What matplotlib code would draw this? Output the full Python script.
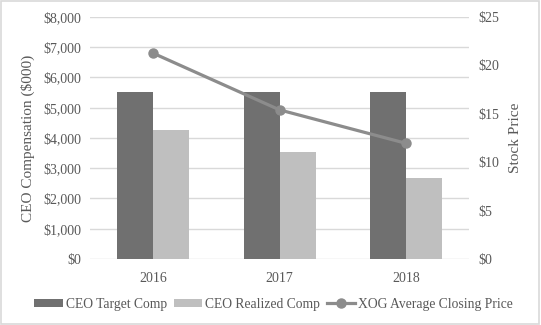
import matplotlib
matplotlib.use("Agg")
import matplotlib.pyplot as plt
import numpy as np
from matplotlib.patches import Rectangle
from matplotlib.ticker import FuncFormatter

years = ["2016", "2017", "2018"]
target_comp = [5530, 5530, 5530]
realized_comp = [4270, 3540, 2670]
stock_price = [21.25, 15.4, 11.95]

plt.rcParams['font.family'] = ['Liberation Serif', 'DejaVu Serif']

fig = plt.figure(figsize=(5.41, 3.25), dpi=100)
fig.patches.append(Rectangle((0.002, 0.003), 0.995, 0.993, transform=fig.transFigure,
                             fill=False, edgecolor='#D9D9D9', linewidth=1.2))
ax = fig.add_axes([0.1664, 0.203, 0.7006, 0.745])
x = np.arange(len(years))
w = 0.285
c_t = '#707070'
c_r = '#BFBFBF'
c_l = '#8C8C8C'
b1 = ax.bar(x - w/2, target_comp, w, color=c_t, label='CEO Target Comp', zorder=3)
b2 = ax.bar(x + w/2, realized_comp, w, color=c_r, label='CEO Realized Comp', zorder=3)
ax.set_xlim(-0.5, 2.5)
ax.set_ylim(0, 8000)
ax.set_yticks(np.arange(0, 8001, 1000))
ax.yaxis.set_major_formatter(FuncFormatter(lambda v, p: f"${int(v):,}"))
ax.grid(axis='y', color='#D9D9D9', linewidth=1, zorder=0)
ax.set_xticks(x)
ax.set_xticklabels(years)
for s in ax.spines.values():
    s.set_visible(False)
ax.tick_params(axis='y', length=0, labelsize=10, colors='#595959', pad=6)
ax.tick_params(axis='x', length=0, labelsize=10, colors='#595959', pad=9)
ax.set_ylabel('CEO Compensation ($000)', fontsize=11, color='#595959', labelpad=6)

ax2 = ax.twinx()
ax2.set_ylim(0, 25)
ax2.set_yticks(np.arange(0, 26, 5))
ax2.yaxis.set_major_formatter(FuncFormatter(lambda v, p: f"${int(v)}"))
l, = ax2.plot(x, stock_price, color=c_l, linewidth=2.3, marker='o', markersize=6.5,
              label='XOG Average Closing Price', zorder=4)
for s in ax2.spines.values():
    s.set_visible(False)
ax2.tick_params(length=0, labelsize=10, colors='#595959', pad=7)
ax2.set_ylabel('Stock Price', fontsize=11, color='#595959', labelpad=7)

fig.legend(handles=[b1, b2, l], loc='center', bbox_to_anchor=(0.5055, 0.064), ncol=3,
           frameon=False, fontsize=9.8, handlelength=2.1, handleheight=0.45,
           columnspacing=0.5, handletextpad=0.2, labelcolor='#595959')
fig.savefig('out.png', dpi=100)
